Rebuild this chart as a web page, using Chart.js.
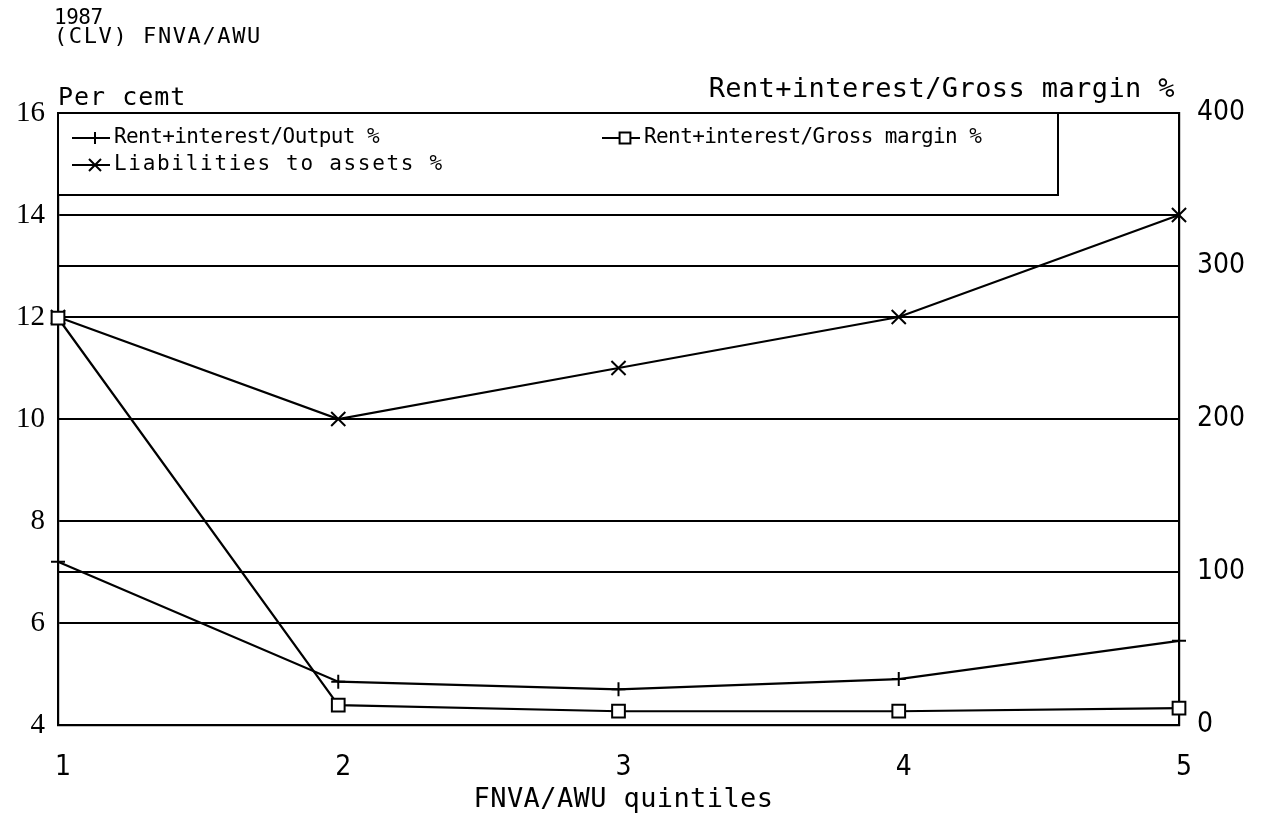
<!DOCTYPE html>
<html>
<head>
<meta charset="utf-8">
<script src="https://cdn.jsdelivr.net/npm/chart.js@4/dist/chart.umd.min.js"></script>
<style>
  html, body { margin: 0; padding: 0; background: #fff; }
  #wrap { width: 1270px; height: 821px; }
</style>
</head>
<body>
<div id="wrap"><canvas id="c" width="1270" height="821"></canvas></div>
<script>
// FNVA/AWU quintiles, 1987 (CLV)
const quintiles = ['1', '2', '3', '4', '5'];
const rentOutput = [7.2, 4.85, 4.7, 4.9, 5.65];        // per cent, left axis
const rentGrossMargin = [266, 13, 9, 9, 11];           // per cent, right axis
const liabilitiesAssets = [12, 10, 11, 12, 14];        // per cent, left axis

const seriesNames = [
  'Rent+interest/Output %',
  'Rent+interest/Gross margin %',
  'Liabilities to assets %'
];
const titleLines = ['1987', '(CLV) FNVA/AWU'];
const leftAxisTitle = 'Per cemt';
const rightAxisTitle = 'Rent+interest/Gross margin %';
const xAxisTitle = 'FNVA/AWU quintiles';

const INK = '#000';
const MONO = '"DejaVu Sans Mono", "Liberation Mono", monospace';
const NARROW = '"DejaVu Sans Condensed", "Liberation Sans Narrow", "DejaVu Sans", sans-serif';

function label(ctx, text, x, y, size, spacing, align) {
  ctx.font = size + 'px ' + MONO;
  ctx.letterSpacing = spacing + 'px';
  ctx.textAlign = align;
  ctx.fillText(text, x, y);
  ctx.letterSpacing = '0px';
}

// titles, axis captions and the boxed legend in the plot corner
const annotations = {
  id: 'annotations',
  afterDraw(chart) {
    const ctx = chart.ctx;
    const area = chart.chartArea;
    ctx.save();
    ctx.fillStyle = INK;
    ctx.strokeStyle = INK;
    ctx.textBaseline = 'middle';

    label(ctx, titleLines[0], 54, 19, 21, -0.5, 'left');
    label(ctx, titleLines[1], 54, 37, 22, 1.6, 'left');

    label(ctx, leftAxisTitle, area.left, 98, 25, 1, 'left');
    label(ctx, rightAxisTitle, area.right - 4, 90, 27, 0.4, 'right');
    label(ctx, xAxisTitle, (area.left + area.right) / 2 + 5, 800, 27, 0.4, 'center');

    // legend box
    const boxRight = 1058, boxBottom = 195;
    ctx.fillStyle = '#fff';
    ctx.fillRect(area.left, area.top, boxRight - area.left, boxBottom - area.top);
    ctx.lineWidth = 2;
    ctx.strokeRect(area.left, area.top, boxRight - area.left, boxBottom - area.top);

    const slots = [
      { x: 72, y: 138, spacing: -0.6 },
      { x: 602, y: 138, spacing: -0.6 },
      { x: 72, y: 165, spacing: 1.7 }
    ];
    chart.data.datasets.forEach((ds, i) => {
      const s = slots[i];
      ctx.strokeStyle = INK;
      ctx.lineWidth = 2;
      ctx.beginPath();
      ctx.moveTo(s.x, s.y);
      ctx.lineTo(s.x + 38, s.y);
      ctx.stroke();
      ctx.fillStyle = '#fff';
      Chart.helpers.drawPoint(ctx, {
        pointStyle: ds.pointStyle,
        radius: ds.pointRadius * 0.85,
        rotation: 0,
        borderWidth: 2
      }, s.x + 23, s.y);
      ctx.fillStyle = INK;
      label(ctx, ds.label, s.x + 42, s.y, 21, s.spacing, 'left');
    });
    ctx.restore();
  }
};

const lineStyle = {
  borderColor: INK,
  borderWidth: 2.2,
  pointBorderColor: INK,
  pointBackgroundColor: '#fff',
  pointBorderWidth: 2,
  tension: 0,
  fill: false,
  clip: false
};

new Chart(document.getElementById('c'), {
  type: 'line',
  data: {
    labels: quintiles,
    datasets: [
      Object.assign({ label: seriesNames[0], data: rentOutput, yAxisID: 'y',
        pointStyle: 'cross', pointRadius: 7 }, lineStyle),
      Object.assign({ label: seriesNames[1], data: rentGrossMargin, yAxisID: 'y1',
        pointStyle: 'rect', pointRadius: 9 }, lineStyle),
      Object.assign({ label: seriesNames[2], data: liabilitiesAssets, yAxisID: 'y',
        pointStyle: 'crossRot', pointRadius: 10 }, lineStyle)
    ]
  },
  options: {
    responsive: false,
    animation: false,
    events: [],
    layout: { padding: { top: 113, left: 0, right: 0, bottom: 0 } },
    plugins: {
      legend: { display: false },
      title: { display: false },
      tooltip: { enabled: false }
    },
    scales: {
      x: {
        type: 'category',
        offset: false,
        grid: { display: false, drawTicks: false },
        border: { display: true, color: INK, width: 2.2 },
        ticks: { color: INK, font: { family: NARROW, size: 28 }, padding: 26,
          maxRotation: 0, labelOffset: 5 },
        afterFit(scale) { scale.height = 96; }
      },
      y: {
        position: 'left',
        min: 4, max: 16,
        ticks: { stepSize: 2, color: INK, padding: 13,
          font: { family: '"Liberation Serif", serif', size: 29 } },
        grid: { color: INK, lineWidth: 2, drawTicks: false },
        border: { display: true, color: INK, width: 2.2 },
        afterFit(scale) { scale.width = 58; }
      },
      y1: {
        position: 'right',
        min: 0, max: 400,
        ticks: { stepSize: 100, color: INK, padding: 18,
          font: { family: NARROW, size: 28 } },
        grid: { color: INK, lineWidth: 2, drawTicks: false, drawOnChartArea: true },
        border: { display: true, color: INK, width: 2.2 },
        afterFit(scale) { scale.width = 91; }
      }
    }
  },
  plugins: [annotations]
});
</script>
</body>
</html>
